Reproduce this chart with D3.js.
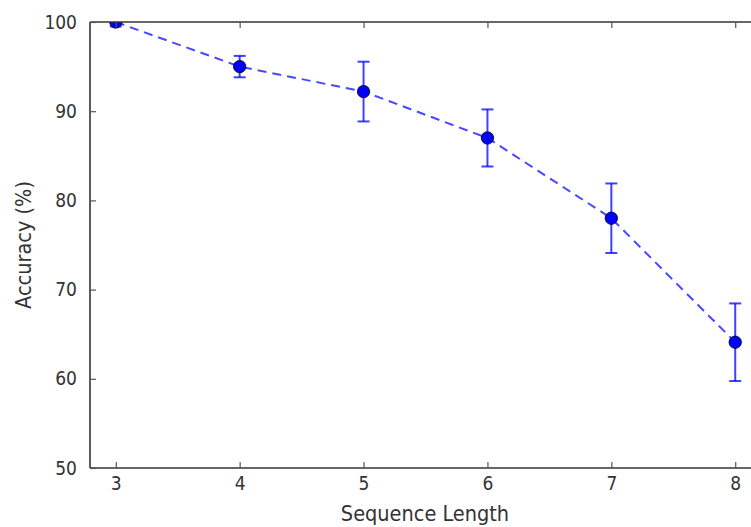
<!DOCTYPE html>
<html><head><meta charset="utf-8">
<script src="https://cdn.jsdelivr.net/npm/d3@7"></script>
<style>body{margin:0;background:#fff;} text{font-family:"DejaVu Sans Condensed","DejaVu Sans",sans-serif;fill:#333;font-stretch:condensed;}</style>
</head><body>
<svg id="c" width="751" height="527"></svg>
<script>
const seqLengths = [3, 4, 5, 6, 7, 8];
const accuracy = [100, 95, 92.2, 87, 78, 64.1];
const errors = [0.5, 1.2, 3.35, 3.2, 3.9, 4.35];
const xTicks = [3, 4, 5, 6, 7, 8];
const yTicks = [50, 60, 70, 80, 90, 100];

const svg = d3.select("#c");
const L = 90, T = 22, B = 468, R = 760;
const x = d3.scaleLinear().domain([2.8, 8.2]).range([L + 1, R]);
const y = d3.scaleLinear().domain([50, 100]).range([B, T]);

svg.append("defs").append("clipPath").attr("id","clip")
  .append("rect").attr("x",L).attr("y",T).attr("width",R-L).attr("height",B-T);

const data = seqLengths.map((s,i)=>({s, v:accuracy[i], e:errors[i]}));
const g = svg.append("g").attr("clip-path","url(#clip)");

g.append("path").datum(data)
  .attr("d", d3.line().x(d=>x(d.s)).y(d=>y(d.v)))
  .attr("fill","none").attr("stroke","#0000ff").attr("stroke-opacity",0.72)
  .attr("stroke-width",2).attr("stroke-dasharray","9,6");

const eb = g.selectAll(".eb").data(data).enter().append("g").attr("stroke","#0000ff").attr("stroke-opacity",0.75).attr("stroke-width",2);
eb.append("line").attr("x1",d=>x(d.s)).attr("x2",d=>x(d.s)).attr("y1",d=>y(d.v-d.e)).attr("y2",d=>y(d.v+d.e));
eb.append("line").attr("x1",d=>x(d.s)-6).attr("x2",d=>x(d.s)+6).attr("y1",d=>y(d.v-d.e)).attr("y2",d=>y(d.v-d.e));
eb.append("line").attr("x1",d=>x(d.s)-6).attr("x2",d=>x(d.s)+6).attr("y1",d=>y(d.v+d.e)).attr("y2",d=>y(d.v+d.e));

g.selectAll("circle").data(data).enter().append("circle")
  .attr("cx",d=>x(d.s)).attr("cy",d=>y(d.v)).attr("r",6.2)
  .attr("fill","#0000ff").attr("stroke","#000").attr("stroke-width",0.8);

const ax = svg.append("g");
ax.append("line").attr("x1",L).attr("x2",R+10).attr("y1",B).attr("y2",B).attr("stroke","#333").attr("stroke-width",1.6);
ax.append("line").attr("x1",L).attr("x2",R+10).attr("y1",T).attr("y2",T).attr("stroke","#333").attr("stroke-width",1.6);
ax.append("line").attr("x1",L).attr("x2",L).attr("y1",T).attr("y2",B).attr("stroke","#333").attr("stroke-width",1.6);

const xb = svg.append("g").attr("transform",`translate(0,${B})`)
  .call(d3.axisBottom(x).tickValues(xTicks).tickSize(-6).tickPadding(9).tickFormat(d3.format("d")));
xb.select(".domain").remove();
const xt = svg.append("g").attr("transform",`translate(0,${T})`)
  .call(d3.axisTop(x).tickValues(xTicks).tickSize(-6).tickFormat(""));
xt.select(".domain").remove();
const yl = svg.append("g").attr("transform",`translate(${L},0)`)
  .call(d3.axisLeft(y).tickValues(yTicks).tickSize(-6).tickPadding(13).tickFormat(d3.format("d")));
yl.select(".domain").remove();
svg.selectAll(".tick line").attr("stroke","#555").attr("stroke-width",1.2);
svg.selectAll(".tick text").style("font-size","19px").attr("fill","#333");

svg.append("text").attr("x",(L+R)/2).attr("y",521).attr("text-anchor","middle").style("font-size","21.5px").text("Sequence Length");
svg.append("text").attr("transform",`translate(31,${(T+B)/2}) rotate(-90)`).attr("text-anchor","middle").style("font-size","21.5px").text("Accuracy (%)");
</script>
</body></html>
